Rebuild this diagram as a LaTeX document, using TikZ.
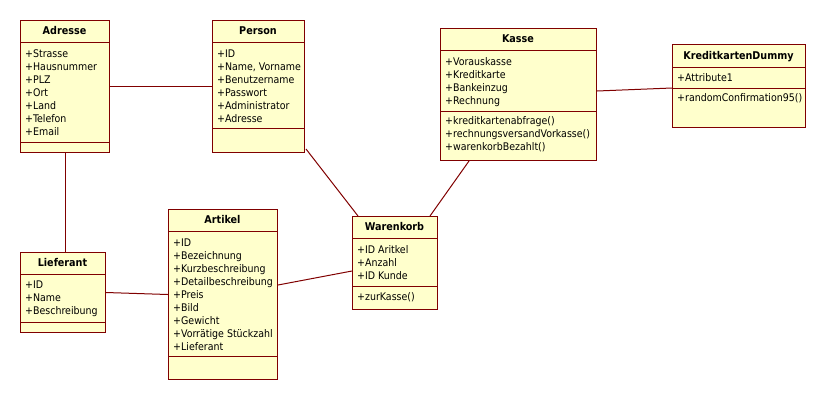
\documentclass[tikz,border=0pt]{standalone}
\usepackage{fontspec}
\setmainfont{DejaVu Sans Condensed}
\usetikzlibrary{calc}
\definecolor{umlfill}{HTML}{FFFFCC}
\definecolor{umlline}{HTML}{800000}
\tikzset{
  classbox/.style={draw=umlline, fill=umlfill, line width=1pt, inner sep=0pt, anchor=north west},
  divider/.style={draw=umlline, line width=1pt},
  classtitle/.style={font=\fontsize{10.7}{12}\selectfont\bfseries, text height=7.8pt, text depth=0pt, inner sep=0pt},
  member/.style={anchor=base west, inner sep=0pt, font=\fontsize{10.5}{12}\selectfont},
  link/.style={draw=umlline, line width=1pt},
}
% #1 name, #2 left, #3 top, #4 right, #5 header bottom, #6 divider, #7 bottom, #8 title
\newcommand\umlclass[8]{%
  \node[classbox, minimum width={(#4-#2)*1pt}, minimum height={(#7-#3)*1pt}] (#1) at (#2,#3) {};
  \draw[divider] (#2,#5) -- (#4,#5);
  \draw[divider] (#2,#6) -- (#4,#6);
  \node[classtitle] (#1-title) at ({(#2+#4)/2},{(#3+#5)/2}) {#8};
}
% #1 prefix, #2 left, #3 first baseline, #4 list of members
\newcommand\umlmembers[4]{%
  \foreach \m [count=\i] in {#4}
    \node[member] (#1-\i) at (#2,{#3+(\i-1)*13}) {\m};
}
\begin{document}
\begin{tikzpicture}[x=1pt,y=-1pt]
\useasboundingbox (0,0) rectangle (826,400);

\umlclass{adresse}{20}{20}{109}{42}{142}{152}{Adresse}
\umlmembers{adresse-a}{25}{57}{+Strasse,+Hausnummer,+PLZ,+Ort,+Land,+Telefon,+Email}

\umlclass{person}{212}{20}{304}{42}{128}{152}{Person}
\umlmembers{person-a}{217}{57}{+ID,{+Name, Vorname},+Benutzername,+Passwort,+Administrator,+Adresse}

\umlclass{kasse}{440}{28}{596}{50}{111}{160}{Kasse}
\umlmembers{kasse-a}{445}{65}{+Vorauskasse,+Kreditkarte,+Bankeinzug,+Rechnung}
\umlmembers{kasse-o}{445}{124}{+kreditkartenabfrage(),+rechnungsversandVorkasse(),+warenkorbBezahlt()}

\umlclass{kd}{672}{44}{805}{67}{88}{127}{KreditkartenDummy}
\umlmembers{kd-a}{677}{81}{+Attribute1}
\umlmembers{kd-o}{677}{101}{+randomConfirmation95()}

\umlclass{lieferant}{20}{252}{105}{274}{322}{332}{Lieferant}
\umlmembers{lieferant-a}{25}{288}{+ID,+Name,+Beschreibung}

\umlclass{artikel}{168}{209}{277}{231}{356}{379}{Artikel}
\umlmembers{artikel-a}{173}{246}{+ID,+Bezeichnung,+Kurzbeschreibung,+Detailbeschreibung,+Preis,+Bild,+Gewicht,+Vorrätige Stückzahl,+Lieferant}

\umlclass{warenkorb}{352}{216}{437}{238}{286}{309}{Warenkorb}
\umlmembers{warenkorb-a}{357}{253}{+ID Aritkel,+Anzahl,+ID Kunde}
\umlmembers{warenkorb-o}{357}{300}{+zurKasse()}

% associations
\draw[link] (adresse.east) -- (person.west);
\draw[link] (adresse.south) -- (adresse.south |- lieferant.north);
\draw[link] (lieferant.east) -- (artikel.west);
\draw[link] ($(artikel.north east)+(0,76)$) -- ($(warenkorb.north west)+(0,55)$);
\draw[link] ($(person.south east)+(1,-4)$) -- ($(warenkorb.north west)+(6,0)$);
\draw[link] ($(kasse.south west)+(29,0)$) -- ($(warenkorb.north east)+(-8,0)$);
\draw[link] ($(kasse.north east)+(0,63)$) -- ($(kd.north west)+(0,44)$);
\end{tikzpicture}
\end{document}
